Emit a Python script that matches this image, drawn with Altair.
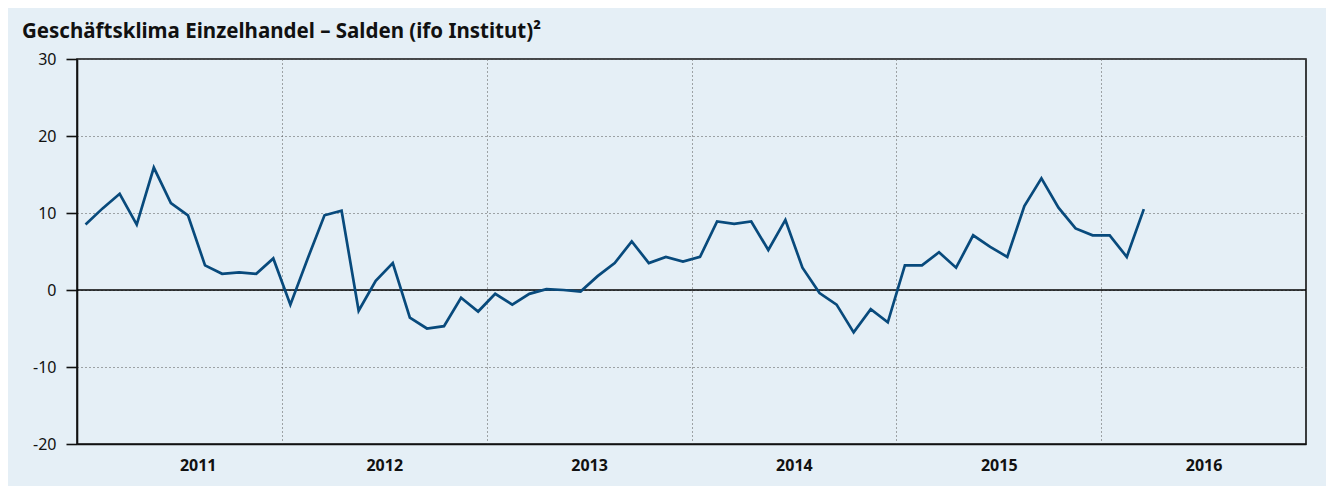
import altair as alt
import pandas as pd

start_year = 2011
values = [
    8.5, 10.6, 12.5, 8.5, 15.9, 11.3, 9.7, 3.2, 2.1, 2.3, 2.1, 4.1,
    -1.9, 4.0, 9.7, 10.3, -2.7, 1.2, 3.5, -3.6, -5.0, -4.7, -1.0, -2.8,
    -0.5, -1.9, -0.5, 0.1, 0.0, -0.2, 1.8, 3.5, 6.3, 3.5, 4.3, 3.7,
    4.3, 8.9, 8.6, 8.9, 5.2, 9.1, 2.9, -0.4, -1.9, -5.5, -2.5, -4.2,
    3.2, 3.2, 4.9, 2.9, 7.1, 5.6, 4.3, 10.9, 14.5, 10.7, 8.0, 7.1,
    7.1, 4.3, 10.5,
]
years = [2011, 2012, 2013, 2014, 2015, 2016]
y_ticks = [-20, -10, 0, 10, 20, 30]
zero_line = [0]

df = pd.DataFrame({
    "t": [start_year + (i + 0.5) / 12 for i in range(len(values))],
    "v": values,
})

FONT = "Noto Sans"
W, H = 1229, 385

x_scale = alt.Scale(domain=[2011, 2017], nice=False, zero=False)
y_scale = alt.Scale(domain=[-20, 30], nice=False)

line = alt.Chart(df).mark_line(color="#084a7c", strokeWidth=2.7).encode(
    x=alt.X("t:Q", scale=x_scale, title=None,
            axis=alt.Axis(values=years, format="d", labelOffset=W / 12,
                          ticks=False, grid=True, gridDash=[1, 3],
                          gridColor="#555", gridWidth=1,
                          labelFontWeight="bold", labelFontSize=16,
                          labelFont=FONT, labelColor="#111",
                          labelPadding=13, domainColor="#111",
                          domainWidth=1.6)),
    y=alt.Y("v:Q", scale=y_scale, title=None,
            axis=alt.Axis(values=y_ticks, tickSize=11, tickColor="#111",
                          tickWidth=1.6, domainColor="#111", domainWidth=1.6,
                          grid=True, gridDash=[1, 3], gridColor="#555",
                          labelExpr="'' + datum.value",
                          labelFontSize=16, labelFont=FONT,
                          labelColor="#111", labelPadding=10)),
)

zero = alt.Chart(pd.DataFrame({"z": zero_line})).mark_rule(
    color="#000", strokeWidth=1.3
).encode(y=alt.Y("z:Q", scale=y_scale))

chart = alt.layer(zero, line).properties(
    width=W,
    height=H,
    background="#e5eff6",
    padding={"left": 69, "top": 51, "right": 20, "bottom": 42},
    autosize=alt.AutoSizeParams(type="none"),
    title=alt.TitleParams(
        "Geschäftsklima Einzelhandel – Salden (ifo Institut)²",
        anchor="start", frame="group", font=FONT, fontSize=20.5,
        fontWeight="bold", color="#111", dx=-55, offset=9,
    ),
).configure_view(stroke="#111", strokeWidth=1.6)

chart.save("out.html", embed_options={"renderer": "svg", "actions": False})
